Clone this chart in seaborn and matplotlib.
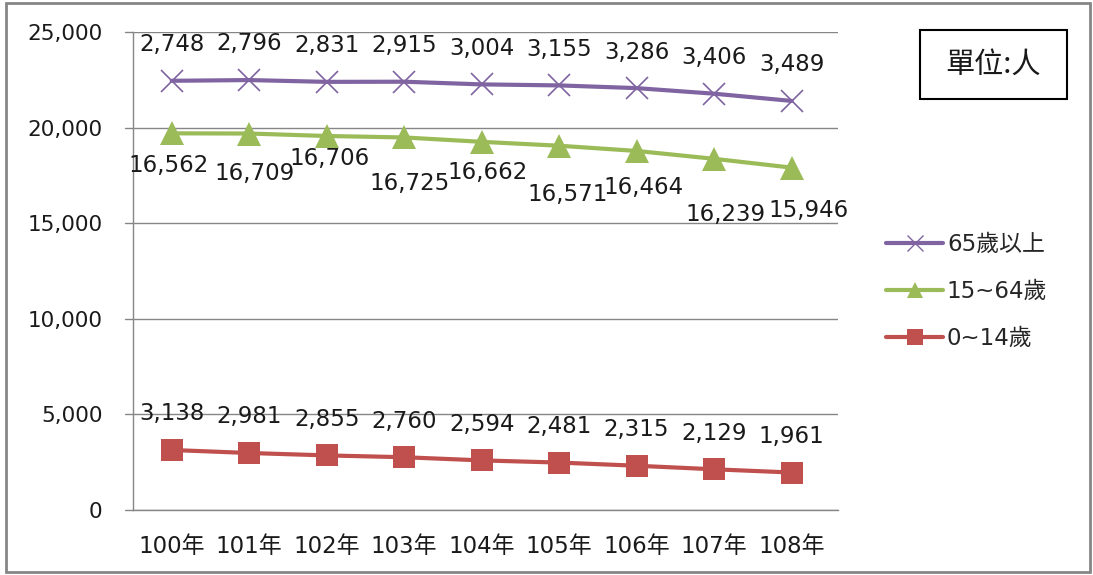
import matplotlib
matplotlib.use("Agg")
import matplotlib.pyplot as plt
import seaborn as sns
import pandas as pd
import numpy as np
from matplotlib.patches import Rectangle
from matplotlib.lines import Line2D

years = ["100年", "101年", "102年", "103年", "104年", "105年", "106年", "107年", "108年"]
age_0_14 = [3138, 2981, 2855, 2760, 2594, 2481, 2315, 2129, 1961]
age_15_64 = [16562, 16709, 16706, 16725, 16662, 16571, 16464, 16239, 15946]
age_65 = [2748, 2796, 2831, 2915, 3004, 3155, 3286, 3406, 3489]
series_names = ["0~14歲", "15~64歲", "65歲以上"]
y_ticks = [0, 5000, 10000, 15000, 20000, 25000]

sns.set_theme(style="white")
plt.rcParams['font.family'] = ['DejaVu Sans', 'Noto Sans CJK TC']

# stacked line chart (cumulative)
c1 = np.array(age_0_14)
c2 = c1 + np.array(age_15_64)
c3 = c2 + np.array(age_65)
df = pd.DataFrame({
    "year": years * 3,
    "x": list(range(len(years))) * 3,
    "value": list(c1) + list(c2) + list(c3),
    "label": age_0_14 + age_15_64 + age_65,
    "series": [series_names[0]] * 9 + [series_names[1]] * 9 + [series_names[2]] * 9,
})

colors = {"0~14歲": "#C0504D", "15~64歲": "#9BBB59", "65歲以上": "#8064A2"}
markers = {"0~14歲": "s", "15~64歲": "^", "65歲以上": "x"}
msizes = {"0~14歲": 15.5, "15~64歲": 17, "65歲以上": 16.5}

fig = plt.figure(figsize=(10.93, 5.75), dpi=100)
ax = fig.add_axes([133 / 1093, 1 - 510 / 575, (838 - 133) / 1093, (510 - 32) / 575])

for name in series_names:
    sub = df[df.series == name]
    sns.lineplot(data=sub, x="x", y="value", ax=ax, color=colors[name], lw=3,
                 marker=markers[name], markersize=msizes[name],
                 markeredgewidth=1.2 if name == "65歲以上" else 0,
                 markeredgecolor=colors[name], legend=False, sort=False)

# data labels
lbl_fs = 16.5
for i in range(len(years)):
    ax.annotate(f"{age_65[i]:,}", (i, c3[i]), xytext=(0, 26), textcoords="offset points",
                ha="center", va="center", fontsize=lbl_fs, color="#1a1a1a")
    ax.annotate(f"{age_0_14[i]:,}", (i, c1[i]), xytext=(0, 26), textcoords="offset points",
                ha="center", va="center", fontsize=lbl_fs, color="#1a1a1a")
green_dy = [-23, -29, -16, -33, -22, -35, -26, -40, -31]
green_dx = [-2, 4, 2, 4, 4, 6, 5, 8, 12]
for i in range(len(years)):
    ax.annotate(f"{age_15_64[i]:,}", (i, c2[i]), xytext=(green_dx[i], green_dy[i]),
                textcoords="offset points", ha="center", va="center", fontsize=lbl_fs,
                color="#1a1a1a")

ax.set_xlim(-0.5, len(years) - 0.5 + 0.1)
ax.set_ylim(0, 25000)
ax.set_yticks(y_ticks)
ax.set_yticklabels([f"{v:,}" for v in y_ticks], fontsize=15.5, color="#1a1a1a")
ax.set_xticks(range(len(years)))
ax.set_xticklabels(years, fontsize=16.5, color="#1a1a1a")
ax.tick_params(axis="x", length=0, pad=18)
ax.tick_params(axis="y", length=0, pad=22)
# category boundary ticks
ax.set_xticks(np.arange(-0.5, len(years), 1.0), minor=True)
ax.tick_params(axis="x", which="minor", length=6, color="#868686", width=1, direction="out")
ax.yaxis.grid(True, color="#868686", lw=1)
ax.xaxis.grid(False)
for s in ["top", "right"]:
    ax.spines[s].set_visible(False)
for s in ["left", "bottom"]:
    ax.spines[s].set_color("#868686")
    ax.spines[s].set_linewidth(1)
ax.set_xlabel("")
ax.set_ylabel("")
for y in y_ticks:
    ax.plot([-0.6, -0.5], [y, y], color="#868686", lw=1, clip_on=False)

# legend
order = ["65歲以上", "15~64歲", "0~14歲"]
handles = [Line2D([0], [0], color=colors[n], lw=3, marker=markers[n],
                  markersize=msizes[n] * 0.7, markeredgewidth=1 if n == "65歲以上" else 0,
                  markeredgecolor=colors[n]) for n in order]
fig.legend(handles, order, loc="upper left", bbox_to_anchor=(877 / 1093, 1 - 224 / 575),
           frameon=False, fontsize=16.5, handlelength=2.5, handletextpad=0.15,
           labelspacing=1.05, borderaxespad=0)

# unit box
fig.patches.append(Rectangle((920 / 1093, 1 - 99 / 575), 147 / 1093, 69 / 575,
                             transform=fig.transFigure, fill=False, ec="black", lw=1.5))
fig.text(993 / 1093, 1 - 65 / 575, "單位:人", ha="center", va="center", fontsize=21,
         family=['Noto Sans CJK TC', 'DejaVu Sans'], color="#1a1a1a")

# chart border
fig.patches.append(Rectangle((6 / 1093, 3 / 575), 1084 / 1093, 569 / 575,
                             transform=fig.transFigure, fill=False, ec="#868686", lw=2))

fig.savefig("out.png", dpi=100)
